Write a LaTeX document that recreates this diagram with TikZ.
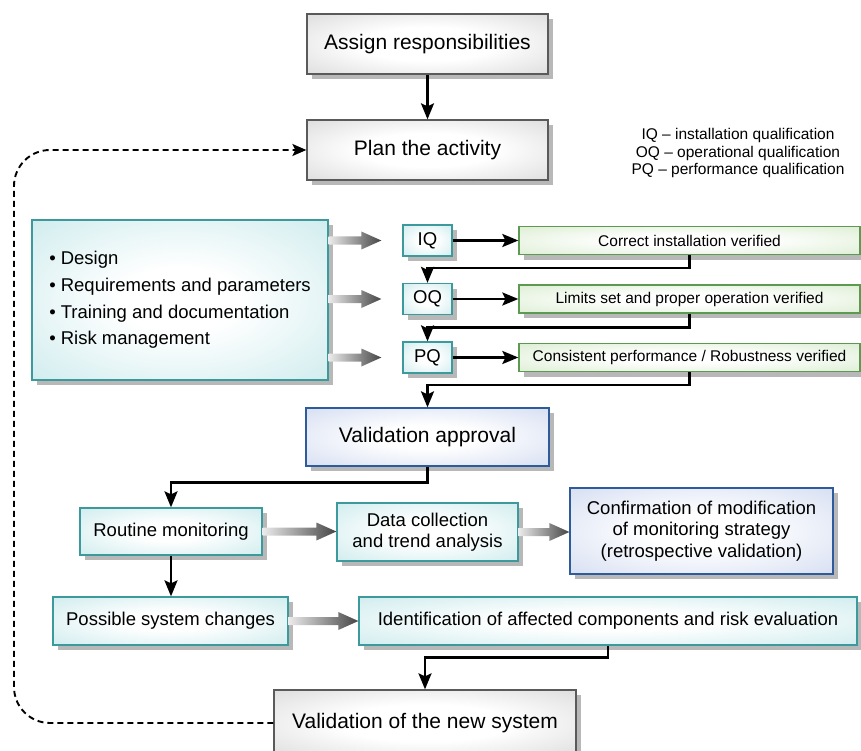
\documentclass[tikz,border=0pt]{standalone}
\usepackage{fontspec}
\setmainfont{Liberation Sans}
\usetikzlibrary{arrows.meta,calc,shadows}

\definecolor{grayedge}{HTML}{C8C8C8}
\definecolor{grayline}{HTML}{5A5A5A}
\definecolor{cyanedge}{HTML}{B7E2E5}
\definecolor{cyanline}{HTML}{3D9A9C}
\definecolor{greenedge}{HTML}{CBE5BD}
\definecolor{greenline}{HTML}{5B9A50}
\definecolor{blueedge}{HTML}{C0CDEA}
\definecolor{blueline}{HTML}{2D5B9C}
\definecolor{shadowgray}{HTML}{B8B8B8}
\definecolor{arrowdark}{HTML}{454545}
\definecolor{arrowlight}{HTML}{EBEBEB}

\pgfdeclareradialshading{grayglow}{\pgfpoint{0bp}{0bp}}{color(0bp)=(white); color(14bp)=(white); color(50bp)=(grayedge)}
\pgfdeclareradialshading{cyanglow}{\pgfpoint{0bp}{0bp}}{color(0bp)=(white); color(10bp)=(white); color(50bp)=(cyanedge)}
\pgfdeclareradialshading{greenglow}{\pgfpoint{0bp}{0bp}}{color(0bp)=(white); color(10bp)=(white); color(50bp)=(greenedge)}
\pgfdeclareradialshading{blueglow}{\pgfpoint{0bp}{0bp}}{color(0bp)=(white); color(10bp)=(white); color(50bp)=(blueedge)}

\newcommand{\bigfont}{\fontsize{21}{25}\selectfont}
\newcommand{\midfont}{\fontsize{18.5}{21.5}\selectfont}
\newcommand{\listfont}{\fontsize{18.5}{26.7}\selectfont}
\newcommand{\smallfont}{\fontsize{15.5}{17.5}\selectfont}

\newcommand{\fatarrow}[2]{%
  \shade[left color=arrowlight, right color=arrowdark] let \p1=#1, \p2=#2 in
    (\x1,\y1+4pt) -- (\x2-20pt,\y1+4pt) -- (\x2-20pt,\y1+9pt) -- (\x2,\y1)
    -- (\x2-20pt,\y1-9pt) -- (\x2-20pt,\y1-4pt) -- (\x1,\y1-4pt) -- cycle;}

\begin{document}
\begin{tikzpicture}[x=1pt,y=-1pt,
  box/.style={line width=1.3pt, inner sep=0pt,
    drop shadow={shadow xshift=5pt,shadow yshift=-5pt,fill=shadowgray,opacity=1}},
  graybox/.style={box, draw=grayline, shading=grayglow, font=\bigfont},
  cyanbox/.style={box, draw=cyanline, shading=cyanglow, font=\midfont},
  greenbox/.style={box, draw=greenline, shading=greenglow, font=\smallfont,
    minimum width=341pt, minimum height=28pt},
  bluebox/.style={box, draw=blueline, shading=blueglow},
  qbox/.style={cyanbox, minimum width=49pt, minimum height=31pt},
  flow/.style={line width=2.4pt, -{Stealth[length=16pt,width=13pt,inset=3pt]}},
  loopback/.style={line width=1.9pt, dash pattern=on 6pt off 4pt, rounded corners=36pt,
    -{Stealth[length=14pt,width=12pt,inset=3pt]}}]
\useasboundingbox (0,0) rectangle (861,751);

\node[graybox, minimum width=241pt, minimum height=60pt] (assign) at (427.5,44) {Assign responsibilities};
\node[graybox, minimum width=241pt, minimum height=60pt] (plan) at (427.5,150) {Plan the activity};

\node[font=\smallfont, align=center] (key) at (738,153)
  {IQ – installation qualification\\OQ – operational qualification\\PQ – performance qualification};

\node[cyanbox, font=\listfont, align=left, minimum width=296pt, minimum height=160pt] (design) at (180,300)
  {\textbullet\ Design\\\textbullet\ Requirements and parameters\\\textbullet\ Training and documentation\\\textbullet\ Risk management};

\node[qbox] (IQ) at (427.5,240.5) {IQ};
\node[qbox] (OQ) at (427.5,299) {OQ};
\node[qbox] (PQ) at (427.5,357.5) {PQ};

\node[greenbox] (IQres) at (689.5,240.5) {Correct installation verified};
\node[greenbox] (OQres) at (689.5,299) {Limits set and proper operation verified};
\node[greenbox] (PQres) at (689.5,357.5) {Consistent performance / Robustness verified};

\node[bluebox, font=\bigfont, minimum width=243pt, minimum height=58pt] (approval) at (427.5,437) {Validation approval};

\node[cyanbox, minimum width=182pt, minimum height=47pt] (routine) at (171,531.5) {Routine monitoring};
\node[cyanbox, align=center, minimum width=181pt, minimum height=58pt] (data) at (427.5,532) {Data collection\\and trend analysis};
\node[bluebox, font=\midfont, align=center, minimum width=263pt, minimum height=86pt] (confirm) at (701.5,531)
  {Confirmation of modification\\of monitoring strategy\\(retrospective validation)};

\node[cyanbox, minimum width=235pt, minimum height=48pt] (possible) at (170.5,621) {Possible system changes};
\node[cyanbox, minimum width=498pt, minimum height=48pt] (ident) at (608,621) {Identification of affected components and risk evaluation};

\node[graybox, minimum width=302pt, minimum height=66pt] (newsys) at (425,723) {Validation of the new system};

\coordinate (edge) at (14,400);

\draw[flow] (assign) -- (plan);
\draw[flow] (IQ) -- (IQres);
\draw[flow] (OQ) -- (OQres);
\draw[flow] (PQ) -- (PQres);
\draw[flow] (IQres.south) -- ++(0,13) -| (OQ.north);
\draw[flow] (OQres.south) -- ++(0,14) -| (PQ.north);
\draw[flow] (PQres.south) -- ++(0,13) -| (approval.north);
\draw[flow] (approval.south) -- ++(0,16) -| (routine.north);
\draw[flow] (routine.south) -- (routine.south |- possible.north);
\draw[flow] (ident.south) -- ++(0,12) -| (newsys.north);
\draw[loopback] (newsys.west) -| (edge) |- (plan.west);

\fatarrow{(design.east |- IQ.west)}{($(IQ.west)+(-21,0)$)}
\fatarrow{(design.east |- OQ.west)}{($(OQ.west)+(-21,0)$)}
\fatarrow{(design.east |- PQ.west)}{($(PQ.west)+(-21,0)$)}
\fatarrow{(routine.east)}{(data.west)}
\fatarrow{(data.east)}{(confirm.west)}
\fatarrow{(possible.east)}{(ident.west)}
\end{tikzpicture}
\end{document}
